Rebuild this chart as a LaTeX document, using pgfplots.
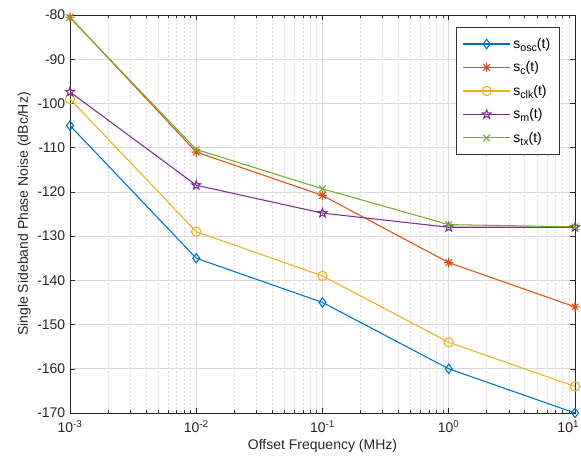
\documentclass[border=0pt]{standalone}
\usepackage{fontspec}
\setmainfont{Liberation Sans}
\usepackage{pgfplots}
\pgfplotsset{compat=1.18}
\definecolor{c1}{rgb}{0,0.447,0.741}
\definecolor{c2}{rgb}{0.85,0.325,0.098}
\definecolor{c3}{rgb}{0.929,0.694,0.125}
\definecolor{c4}{rgb}{0.494,0.184,0.556}
\definecolor{c5}{rgb}{0.466,0.674,0.188}
\pgfdeclareplotmark{mlasterisk}{%
  \pgfpathmoveto{\pgfqpoint{-\pgfplotmarksize}{0pt}}\pgfpathlineto{\pgfqpoint{\pgfplotmarksize}{0pt}}%
  \pgfpathmoveto{\pgfqpoint{0pt}{-\pgfplotmarksize}}\pgfpathlineto{\pgfqpoint{0pt}{\pgfplotmarksize}}%
  \pgfpathmoveto{\pgfqpoint{-0.707\pgfplotmarksize}{-0.707\pgfplotmarksize}}\pgfpathlineto{\pgfqpoint{0.707\pgfplotmarksize}{0.707\pgfplotmarksize}}%
  \pgfpathmoveto{\pgfqpoint{-0.707\pgfplotmarksize}{0.707\pgfplotmarksize}}\pgfpathlineto{\pgfqpoint{0.707\pgfplotmarksize}{-0.707\pgfplotmarksize}}%
  \pgfusepathqstroke}
\pgfdeclareplotmark{pentagram}{%
  \pgfpathmoveto{\pgfpointpolar{90}{\pgfplotmarksize}}%
  \pgfpathlineto{\pgfpointpolar{126}{0.42\pgfplotmarksize}}%
  \pgfpathlineto{\pgfpointpolar{162}{\pgfplotmarksize}}%
  \pgfpathlineto{\pgfpointpolar{198}{0.42\pgfplotmarksize}}%
  \pgfpathlineto{\pgfpointpolar{234}{\pgfplotmarksize}}%
  \pgfpathlineto{\pgfpointpolar{270}{0.42\pgfplotmarksize}}%
  \pgfpathlineto{\pgfpointpolar{306}{\pgfplotmarksize}}%
  \pgfpathlineto{\pgfpointpolar{342}{0.42\pgfplotmarksize}}%
  \pgfpathlineto{\pgfpointpolar{18}{\pgfplotmarksize}}%
  \pgfpathlineto{\pgfpointpolar{54}{0.42\pgfplotmarksize}}%
  \pgfpathclose\pgfusepathqstroke}
\newcommand{\sub}[1]{\raisebox{-0.45ex}{\fontsize{8}{9}\selectfont #1}}
\begin{document}
\begin{tikzpicture}[x=0.75pt,y=0.75pt]
\begin{axis}[
  at={(0,0)}, anchor=south west,
  scale only axis, width=378.75pt, height=298.5pt,
  xmode=log, xmin=1e-3, xmax=10, ymin=-170, ymax=-80,
  ytick={-170,-160,...,-80},
  xtick={1e-3,1e-2,1e-1,1,10},
  xticklabels={10\textsuperscript{-3},10\textsuperscript{-2},10\textsuperscript{-1},10\textsuperscript{0},\hspace*{-10pt}10\textsuperscript{1}},
  yticklabel={\pgfmathprintnumber[assume math mode=true]{\tick}},
  /pgf/number format/assume math mode=true,
  tick label style={font=\fontsize{10.5}{12}\selectfont, color=black!85},
  xticklabel style={yshift=-2pt},
  label style={font=\fontsize{10.5}{12}\selectfont, color=black!85},
  xlabel={Offset Frequency (MHz)},
  ylabel={Single Sideband Phase Noise (dBc/Hz)},
  xlabel style={yshift=2pt},
  ylabel style={yshift=-2pt},
  grid=both,
  major grid style={line width=0.5pt, black!15},
  minor x grid style={dash pattern=on 1.5pt off 1.5pt, line width=0.4pt, black!15},
  minor y grid style={draw=none},
  minor y tick num=0,
  tick align=inside,
  major tick length=4pt, minor tick length=2.5pt,
  axis line style={black!85, line width=0.6pt},
  every tick/.style={black!85},
  legend style={at={(0.97,0.97)}, anchor=north east, draw=black!80, line width=0.5pt,
     font=\fontsize{10.5}{12}\selectfont, row sep=4.5pt, inner xsep=5pt, inner ysep=6pt, cells={anchor=west}},
  legend image code/.code={\draw[line width=0.8pt, mark repeat=2,mark phase=2] plot coordinates {(0cm,0cm) (0.62cm,0cm) (1.24cm,0cm)};},
  legend cell align=left,
  every axis plot/.append style={line width=0.8pt, mark size=3.5pt, mark options={solid, fill=none, line width=0.8pt}},
]
\addplot[c1, mark=diamond] coordinates {(1e-3,-105) (1e-2,-135) (1e-1,-145) (1,-160) (10,-170)};
\addlegendentry{s\sub{osc}(t)}
\addplot[c2, mark=mlasterisk] coordinates {(1e-3,-80.5) (1e-2,-111) (1e-1,-120.8) (1,-136) (10,-146)};
\addlegendentry{s\sub{c}(t)}
\addplot[c3, mark=o] coordinates {(1e-3,-99) (1e-2,-129) (1e-1,-139) (1,-154) (10,-164)};
\addlegendentry{s\sub{clk}(t)}
\addplot[c4, mark=pentagram] coordinates {(1e-3,-97.4) (1e-2,-118.5) (1e-1,-124.8) (1,-128) (10,-128)};
\addlegendentry{s\sub{m}(t)}
\addplot[c5, mark=x] coordinates {(1e-3,-80.6) (1e-2,-110.4) (1e-1,-119.3) (1,-127.4) (10,-127.9)};
\addlegendentry{s\sub{tx}(t)}
\end{axis}
\pgfresetboundingbox
\useasboundingbox (-70,-52) rectangle (511,413);
\end{tikzpicture}
\end{document}
